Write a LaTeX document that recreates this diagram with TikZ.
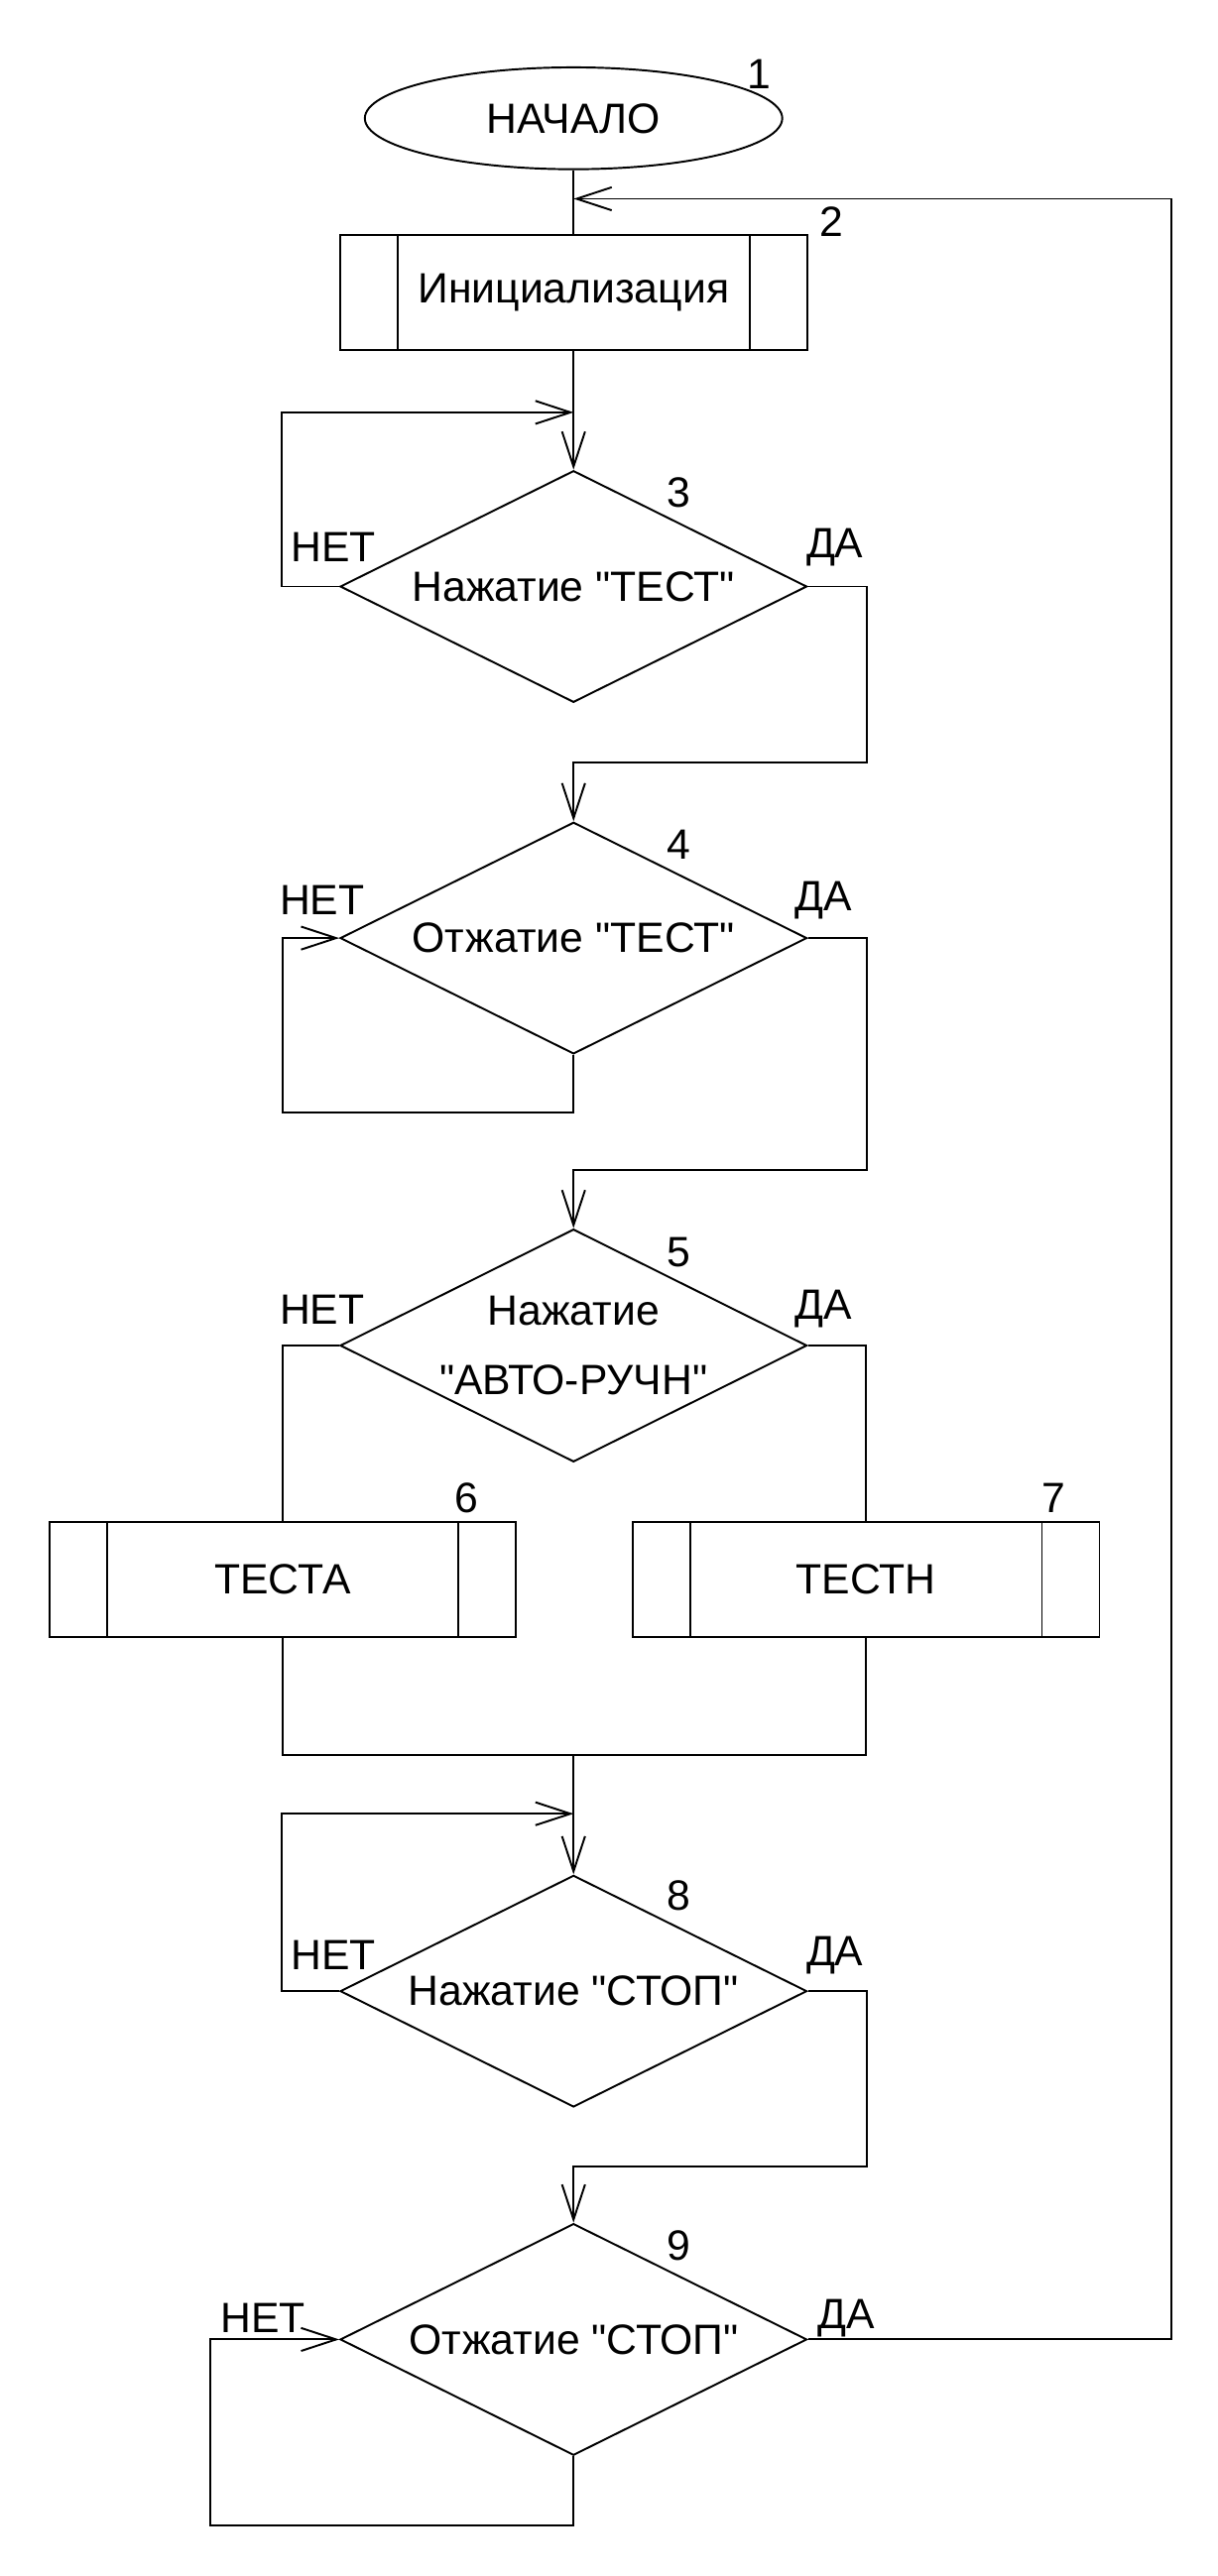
\documentclass[tikz,border=0pt]{standalone}
\usepackage{fontspec}
\setmainfont{Liberation Sans}[Ligatures=TeXOff]
\usepackage{tikz}
\usetikzlibrary{arrows.meta,shapes.geometric}

\tikzset{
    every node/.style={font=\fontsize{22}{36}\selectfont},
    line/.style={line width=1pt},
    arr/.style={line width=1pt, -{Straight Barb[length=6.4mm,width=4.2mm]}},
    term/.style={draw, line width=1pt, ellipse, minimum width=76.2mm, minimum height=18.6mm, inner sep=0pt},
    proc/.style={draw, line width=1pt, rectangle, minimum width=85.2mm, minimum height=21mm, inner sep=0pt,
        path picture={
            \draw[line width=1pt] ([xshift=10.5mm]path picture bounding box.north west) -- ([xshift=10.5mm]path picture bounding box.south west);
            \draw[line width=1pt] ([xshift=-10.5mm]path picture bounding box.north east) -- ([xshift=-10.5mm]path picture bounding box.south east);
        }},
    cond/.style={draw, line width=1pt, diamond, shape aspect=2, minimum width=85.2mm, minimum height=42.3mm, inner sep=0pt, align=center},
}

\begin{document}
\begin{tikzpicture}[x=0.3mm,y=-0.3mm]
                \useasboundingbox (0,0) rectangle (741,1568);

                % blocks
                \node[term] (start) at (349,72) {НАЧАЛО};
                \node[proc] (init) at (349,178) {Инициализация};
                \node[cond] (d3) at (349,357) {Нажатие "ТЕСТ"};
                \node[cond] (d4) at (349,571) {Отжатие "ТЕСТ"};
                \node[cond] (d5) at (349,819) {Нажатие\\"АВТО-РУЧН"};
                \node[proc] (testa) at (172,961.5) {ТЕСТА};
                \node[proc] (testn) at (527,961.5) {ТЕСТН};
                \node[cond] (d8) at (349,1212) {Нажатие "СТОП"};
                \node[cond] (d9) at (349,1424) {Отжатие "СТОП"};

                % block numbers
                \node (n1) at (462,45) {1};
                \node (n2) at (506,135) {2};
                \node (n3) at (413,300) {3};
                \node (n4) at (413,514) {4};
                \node (n5) at (413,762) {5};
                \node (n6) at (284,912) {6};
                \node (n7) at (641,912) {7};
                \node (n8) at (413,1154) {8};
                \node (n9) at (413,1367) {9};

                % branch labels
                \node (no3) at (203,333) {НЕТ};
                \node (yes3) at (508,333) {ДА};
                \node (no4) at (196,548) {НЕТ};
                \node (yes4) at (501,548) {ДА};
                \node (no5) at (196,797) {НЕТ};
                \node (yes5) at (501,797) {ДА};
                \node (no8) at (203,1190) {НЕТ};
                \node (yes8) at (508,1190) {ДА};
                \node (no9) at (160,1411) {НЕТ};
                \node (yes9) at (515,1411) {ДА};

                % joints
                \coordinate (ret) at (349,121);
                \coordinate (j3) at (349,251);
                \coordinate (j4) at (349,464);
                \coordinate (j5) at (349,712);
                \coordinate (jm) at (349,1068);
                \coordinate (j8) at (349,1104);
                \coordinate (j9) at (349,1319);

                \draw[line] (start) -- (init);
                \draw[arr] (init) -- (d3);
                \draw[arr] (d3.west) -- ++(-35,0) |- (j3);
                \draw[arr] (d3.east) -- ++(36,0) |- (j4) -- (d4);
                \draw[arr] (d4.south) -- ++(0,35) -- ++(-177,0) |- (d4.west);
                \draw[arr] (d4.east) -- ++(36,0) |- (j5) -- (d5);
                \draw[line] (d5.west) -| (testa);
                \draw[line] (d5.east) -| (testn);
                \draw[line] (testa.south) |- (jm) -| (testn.south);
                \draw[arr] (jm) -- (d8);
                \draw[arr] (d8.west) -- ++(-35,0) |- (j8);
                \draw[arr] (d8.east) -- ++(36,0) |- (j9) -- (d9);
                \draw[arr] (d9.south) -- ++(0,42) -- ++(-221,0) |- (d9.west);
                \draw[arr] (d9.east) -- ++(221,0) |- (ret);

\end{tikzpicture}
\end{document}
